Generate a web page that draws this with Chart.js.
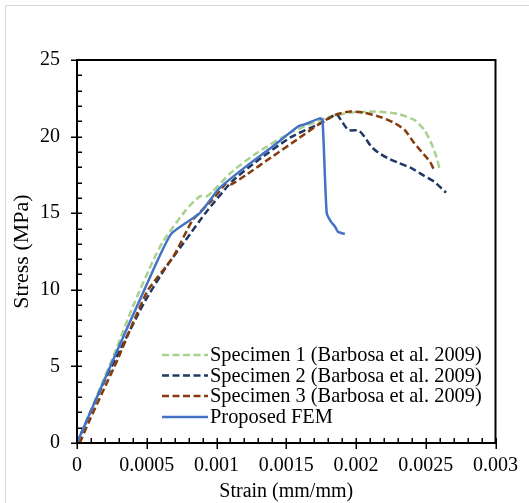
<!DOCTYPE html>
<html><head><meta charset="utf-8">
<script src="https://cdn.jsdelivr.net/npm/chart.js@4/dist/chart.umd.min.js"></script>
<style>html,body{margin:0;padding:0;background:#fff}#wrap{width:529px;height:503px;position:relative}</style>
</head><body><div id="wrap"><canvas id="c"></canvas></div>
<script>
const seriesNames = ['Specimen 1 (Barbosa et al. 2009)','Specimen 2 (Barbosa et al. 2009)','Specimen 3 (Barbosa et al. 2009)','Proposed FEM'];
const s1Strain = [0, 0.00013, 0.00028, 0.0004, 0.00055, 0.00062, 0.00078, 0.00088, 0.00093, 0.00097, 0.00111, 0.0013, 0.00154, 0.00178, 0.00195, 0.00214, 0.0023, 0.00242, 0.00249, 0.00254, 0.002576, 0.0026];
const s1Stress = [0, 2.8, 6.1, 8.9, 12.0, 13.2, 15.2, 16.1, 16.1, 16.4, 17.7, 19.0, 20.3, 21.2, 21.55, 21.63, 21.48, 21.08, 20.43, 19.56, 18.69, 17.86];
const s2Strain = [0, 0.00019, 0.00031, 0.00049, 0.00064, 0.00078, 0.00092, 0.00111, 0.0013, 0.00154, 0.001755, 0.00186, 0.0019, 0.001945, 0.00202, 0.00206, 0.00211, 0.00216, 0.00223, 0.0023, 0.0024, 0.00249, 0.00256, 0.002646];
const s2Stress = [0, 3.9, 6.1, 9.3, 11.5, 13.25, 15.0, 17.06, 18.47, 20.0, 20.91, 21.45, 20.97, 20.43, 20.39, 20.0, 19.34, 18.95, 18.58, 18.3, 17.93, 17.43, 17.06, 16.34];
const s3Strain = [0.00002, 0.00008, 0.00019, 0.00029, 0.0004, 0.00051, 0.00069, 0.00083, 0.00097, 0.00107, 0.00111, 0.00121, 0.0014, 0.00159, 0.00174, 0.00185, 0.00195, 0.00206, 0.00218, 0.00228, 0.00235, 0.00241, 0.00247, 0.00253, 0.00256];
const s3Stress = [0, 1.28, 3.46, 5.42, 7.81, 9.99, 12.16, 14.56, 15.86, 16.95, 16.9, 17.49, 18.69, 19.89, 20.85, 21.41, 21.63, 21.56, 21.26, 20.87, 20.43, 19.67, 19.01, 18.36, 17.82];
const femStrain = [0, 0.00029, 0.00045, 0.00059, 0.00068, 0.00088, 0.00102, 0.00121, 0.0014, 0.00159, 0.00164, 0.00174, 0.00176, 0.00179, 0.00182, 0.00185, 0.00187, 0.00192];
const femStress = [0, 6.07, 9.33, 12.16, 13.69, 15.0, 16.62, 18.04, 19.34, 20.69, 20.82, 21.19, 21.08, 15.0, 14.45, 14.12, 13.79, 13.64];
const xTickValues = [0, 0.0005, 0.001, 0.0015, 0.002, 0.0025, 0.003];
const xTickLabels = ['0','0.0005','0.001','0.0015','0.002','0.0025','0.003'];
const yTickValues = [0, 5, 10, 15, 20, 25];
const yTickLabels = ['0','5','10','15','20','25'];
const xTitle = 'Strain (mm/mm)';
const yTitle = 'Stress (MPa)';

const FONT = "'Liberation Serif','Times New Roman',serif";
const FS = 20;
const toPts = (xs, ys) => xs.map((x, i) => ({x: x, y: ys[i]}));
const styles = [
  {color:'#a9d18e', dash:[7,3.5]},
  {color:'#203864', dash:[7,3.5]},
  {color:'#843c0c', dash:[7,3.5]},
  {color:'#4472c4', dash:[]}
];
const seriesData = [toPts(s1Strain,s1Stress), toPts(s2Strain,s2Stress), toPts(s3Strain,s3Stress), toPts(femStrain,femStress)];
const orders = [3,2,1,0];

const decor = {
  id:'decor',
  beforeDraw(chart){
    const c = chart.ctx;
    c.save(); c.fillStyle='#fff'; c.fillRect(0,0,chart.width,chart.height);
    c.strokeStyle='#d9d9d9'; c.lineWidth=1; c.strokeRect(5.5,5.5,chart.width+10,chart.height+10);
    c.restore();
  },
  afterDatasetsDraw(chart){
    const c = chart.ctx, a = chart.chartArea, xs = chart.scales.x, ys = chart.scales.y;
    c.save();
    c.strokeStyle='#000'; c.lineWidth=2;
    c.strokeRect(a.left, a.top, a.right-a.left, a.bottom-a.top);
    c.lineWidth=1.5;
    c.beginPath();
    for (let v=0; v<=25.0001; v+=1){
      const y = Math.round(ys.getPixelForValue(v))+0.25;
      const major = Math.abs(v/5 - Math.round(v/5))<1e-6;
      c.moveTo(a.left-(major?6:0), y); c.lineTo(a.left+5, y);
    }
    for (let i=0; i<=30; i++){
      const v = i*0.0001;
      const x = Math.round(xs.getPixelForValue(v))+0.25;
      const major = i%5===0;
      c.moveTo(x, a.bottom+(major?6:0)); c.lineTo(x, a.bottom-5);
    }
    c.stroke();
    c.restore();
  },
  afterDraw(chart){
    const c = chart.ctx;
    c.save();
    c.font = "20.4px " + FONT;
    c.textBaseline='middle';
    const rows=[355,375.5,396,417];
    chart.data.datasets.forEach((ds,i)=>{
      const y = rows[i];
      c.strokeStyle = ds.borderColor; c.lineWidth = 2.5; c.setLineDash(ds.borderDash||[]);
      c.beginPath(); c.moveTo(162,y); c.lineTo(208,y); c.stroke();
      c.setLineDash([]);
      c.fillStyle='#000'; c.fillText(ds.label, 210, y+1);
    });
    c.restore();
  }
};

new Chart(document.getElementById('c'), {
  type:'scatter',
  data:{ datasets: seriesNames.map((n,i)=>({
    label:n, data:seriesData[i], showLine:true, pointRadius:0, pointHoverRadius:0,
    borderColor:styles[i].color, backgroundColor:styles[i].color, borderWidth:2.5,
    borderDash:styles[i].dash, tension:0.2, order:orders[i], fill:false
  }))},
  options:{
    responsive:true, maintainAspectRatio:false, animation:false,
    layout:{padding:{left:0, top:60, right:31, bottom:0}},
    plugins:{legend:{display:false}, tooltip:{enabled:false}},
    scales:{
      x:{type:'linear', min:0, max:0.003,
        afterBuildTicks(s){ s.ticks = xTickValues.map(v=>({value:v})); },
        afterFit(s){ s.height = 60; },
        grid:{display:false, drawTicks:false}, border:{display:false},
        ticks:{autoSkip:false, maxRotation:0, padding:11, color:'#000', font:{family:FONT, size:FS},
          callback:(v,i)=>xTickLabels[i]},
        title:{display:true, text:xTitle, color:'#000', font:{family:FONT, size:FS}, padding:{top:0,bottom:-1}}
      },
      y:{type:'linear', min:0, max:25,
        afterBuildTicks(s){ s.ticks = yTickValues.map(v=>({value:v})); },
        afterFit(s){ s.width = 77; },
        grid:{display:false, drawTicks:false}, border:{display:false},
        ticks:{autoSkip:false, padding:17, color:'#000', font:{family:FONT, size:FS},
          callback:(v,i)=>yTickLabels[i]},
        title:{display:true, text:yTitle, color:'#000', font:{family:FONT, size:22}, padding:{top:9,bottom:0}}
      }
    }
  },
  plugins:[decor]
});
</script></body></html>
